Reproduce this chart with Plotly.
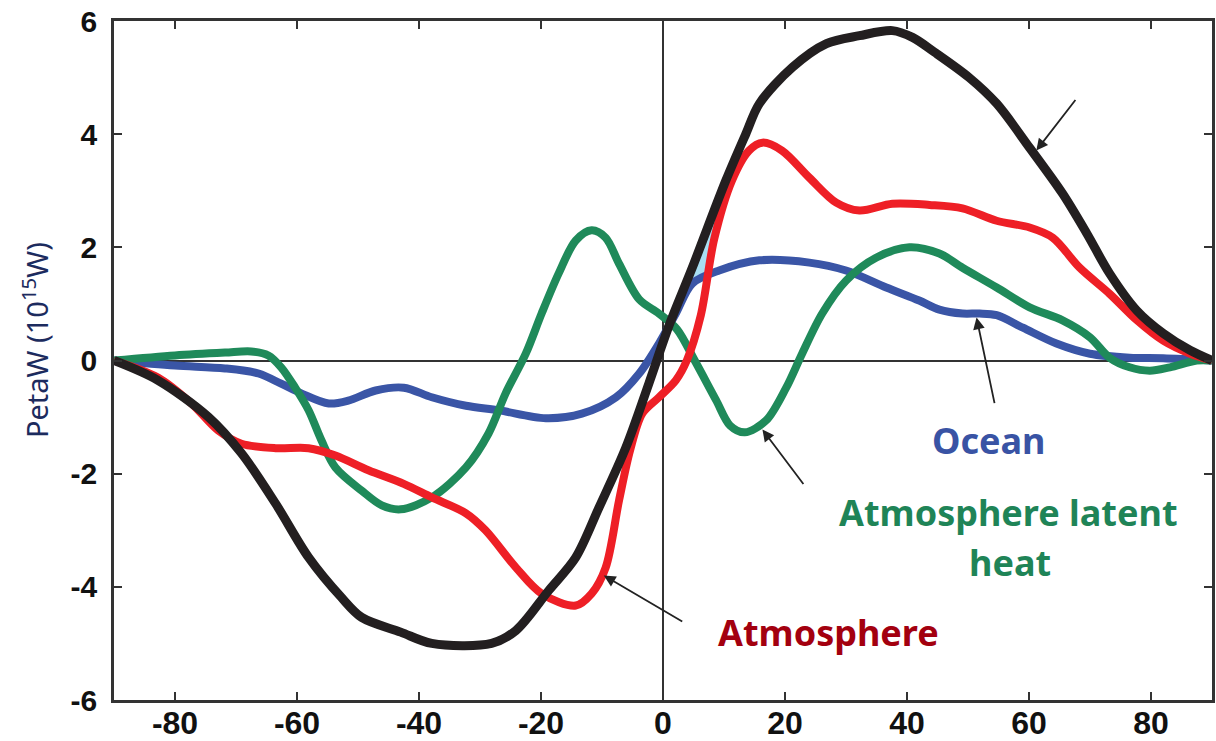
import numpy as np
import plotly.graph_objects as go

# ---------------- data ----------------
total_lat = [-90, -82.8, -74.5, -69.1, -63.5, -58.1, -52.7, -49.4, -43, -37.9, -28.1, -24.1, -18.7,
             -14.3, -10.5, -6.1, -2.3, 1.0, 4.8, 10.3, 13.6, 15.8, 21.2, 26.8, 32.2, 37.6, 40.9,
             44.5, 50.2, 54.7, 60.1, 65.5, 69.5, 73.2, 77.7, 82.0, 86.4, 90]
total_val = [0, -0.35, -1.0, -1.64, -2.53, -3.48, -4.19, -4.54, -4.8, -5.0, -5.0, -4.77, -4.06,
             -3.48, -2.6, -1.54, -0.4, 0.62, 1.64, 3.18, 4.01, 4.54, 5.18, 5.6, 5.74, 5.83, 5.71,
             5.45, 5.0, 4.54, 3.76, 2.95, 2.24, 1.54, 0.88, 0.48, 0.18, 0]

atm_lat = [-90, -82.8, -77.3, -72.9, -69.1, -63.5, -58.1, -53.7, -48.3, -42.5, -37.9, -32.3, -29.1,
           -24.1, -19.9, -14.3, -11.7, -9.4, -7.2, -5.4, -3.4, -0.66, 2.1, 3.9, 6.2, 8.4, 11.3,
           14.1, 16.3, 19.5, 24.0, 28.4, 32.2, 37.6, 43.7, 49.1, 54.7, 60.1, 63.9, 68.3, 73.2,
           77.7, 82.0, 86.4, 90]
atm_val = [0, -0.3, -0.76, -1.24, -1.47, -1.55, -1.55, -1.68, -1.94, -2.18, -2.42, -2.70, -3.0,
           -3.66, -4.12, -4.33, -4.12, -3.66, -2.47, -1.59, -0.94, -0.65, -0.35, 0.0, 0.8, 2.15,
           3.18, 3.71, 3.85, 3.71, 3.23, 2.79, 2.65, 2.77, 2.75, 2.69, 2.47, 2.35, 2.17, 1.64,
           1.18, 0.71, 0.35, 0.12, 0]

lat_lat = [-90, -80, -71.8, -67.5, -64.7, -62.6, -60.3, -58.1, -56, -53.7, -49.4, -46.1, -43,
           -37.9, -32.3, -28.6, -25.8, -22.5, -19.9, -17.1, -14.3, -11.7, -9.4, -7.2, -3.9,
           -0.66, 2.3, 5.2, 8.7, 11.0, 13.4, 16.9, 20.2, 22.8, 26.1, 30.0, 35.0, 40.4, 45.3,
           49.1, 54.7, 60.1, 65.5, 70, 73.2, 76.5, 79.8, 83.1, 87.5, 90]
lat_val = [0, 0.09, 0.14, 0.16, 0.09, -0.12, -0.48, -0.88, -1.41, -1.89, -2.3, -2.56, -2.63,
           -2.42, -1.89, -1.29, -0.58, 0.12, 0.83, 1.54, 2.12, 2.3, 2.17, 1.71, 1.08,
           0.83, 0.55, 0.0, -0.7, -1.15, -1.27, -1.06, -0.48, 0.12, 0.83, 1.41, 1.82, 2.0, 1.89,
           1.64, 1.29, 0.94, 0.71, 0.41, 0.05, -0.12, -0.18, -0.12, 0, 0]

ocean_lat = [-90, -80, -71.8, -66.3, -62.6, -59.3, -54.8, -51.6, -47.1, -42.5, -37.9, -32.3,
             -26.9, -19.2, -13.3, -7.7, -3.9, -0.66, 2.1, 4.8, 9.2, 15.8, 24.0, 30.0, 36.6, 42,
             45.3, 49.1, 51.9, 54.7, 59, 64.5, 70, 76.5, 82, 90]
ocean_val = [0, -0.09, -0.14, -0.23, -0.41, -0.58, -0.76, -0.71, -0.53, -0.48, -0.65, -0.8,
             -0.88, -1.02, -0.94, -0.65, -0.23, 0.3, 0.83, 1.36, 1.59, 1.77, 1.73, 1.59, 1.29,
             1.06, 0.9, 0.83, 0.83, 0.8, 0.58, 0.3, 0.12, 0.05, 0.04, 0]

x_ticks = [-80, -60, -40, -20, 0, 20, 40, 60, 80]
y_ticks = [-6, -4, -2, 0, 2, 4, 6]

# ---------------- figure ----------------
fig = go.Figure()

# small light-blue wedge between the total and atmosphere curves above the ocean curve
g = np.linspace(3.5, 10.5, 120)
bk = np.interp(g, total_lat, total_val)
lo = np.maximum(np.interp(g, ocean_lat, ocean_val), np.interp(g, atm_lat, atm_val))
m = bk > lo
fig.add_trace(go.Scatter(x=np.concatenate([g[m], g[m][::-1]]),
                         y=np.concatenate([bk[m], lo[m][::-1]]),
                         fill="toself", fillcolor="#a9def2", line=dict(width=0),
                         mode="lines", hoverinfo="skip", showlegend=False))

series = [
    (ocean_lat, ocean_val, "#3a55a6", 8),
    (lat_lat, lat_val, "#1f8a5a", 8),
    (atm_lat, atm_val, "#ee1f26", 8),
    (total_lat, total_val, "#231f20", 9),
]
for xs, ys, col, w in series:
    fig.add_trace(go.Scatter(x=xs, y=ys, mode="lines",
                             line=dict(color=col, width=w, shape="spline", smoothing=0.9),
                             showlegend=False))

arrow = dict(showarrow=True, arrowhead=2, arrowsize=1.3, arrowwidth=1.8,
             arrowcolor="#222222", xref="x", yref="y", axref="x", ayref="y", text="")
arrows = [
    (61.2, 3.71, 67.8, 4.63),
    (51.4, 0.76, 54.4, -0.78),
    (16.3, -1.22, 23.2, -2.21),
    (-9.7, -3.8, 3.4, -4.63),
]
for x0, y0, x1, y1 in arrows:
    fig.add_annotation(x=x0, y=y0, ax=x1, ay=y1, **arrow)

lab_font = "Noto Sans"
labels = [
    ("Ocean", 53.5, -1.41, "#3953a4"),
    ("Atmosphere latent", 56.6, -2.68, "#1f8457"),
    ("heat", 56.9, -3.57, "#1f8457"),
    ("Atmosphere", 27.1, -4.81, "#a3000f"),
]
for t, x, y, c in labels:
    fig.add_annotation(x=x, y=y, text=t, showarrow=False, xref="x", yref="y",
                       xanchor="center", yanchor="middle",
                       font=dict(family=lab_font, size=36, color=c, weight="bold"))

fig.add_annotation(x=-0.072, y=0.53, xref="paper", yref="paper", text="PetaW (10<sup>15</sup>W)",
                   textangle=-90, showarrow=False, xanchor="center", yanchor="middle",
                   font=dict(family="Noto Sans", size=29, color="#1c2b5e"))

fig.update_xaxes(range=[-90, 90], tickvals=x_ticks, ticktext=[str(v) for v in x_ticks],
                 ticks="inside", ticklen=8, tickwidth=2, tickcolor="#333333",
                 showline=True, linewidth=2.5, linecolor="#333333", mirror="ticks",
                 showgrid=False, zeroline=True, zerolinecolor="#333333", zerolinewidth=2,
                 automargin=False, ticklabelstandoff=-7,
                 tickfont=dict(family="Liberation Sans", size=32, color="#111111", weight="bold"))
fig.update_yaxes(range=[-6, 6], tickvals=y_ticks, ticktext=[str(v) for v in y_ticks],
                 ticks="inside", ticklen=8, tickwidth=2, tickcolor="#333333",
                 showline=True, linewidth=2.5, linecolor="#333333", mirror="ticks",
                 showgrid=False, zeroline=True, zerolinecolor="#333333", zerolinewidth=2,
                 automargin=False, ticklabelstandoff=8,
                 tickfont=dict(family="Liberation Sans", size=30, color="#111111", weight="bold"))

fig.update_layout(width=1216, height=741, margin=dict(l=114, r=4, t=21, b=41),
                  plot_bgcolor="white", paper_bgcolor="white", showlegend=False)

fig.write_html("out.html", config={"displayModeBar": False},
               post_script="document.body.style.margin='0';document.body.style.overflow='hidden';")
